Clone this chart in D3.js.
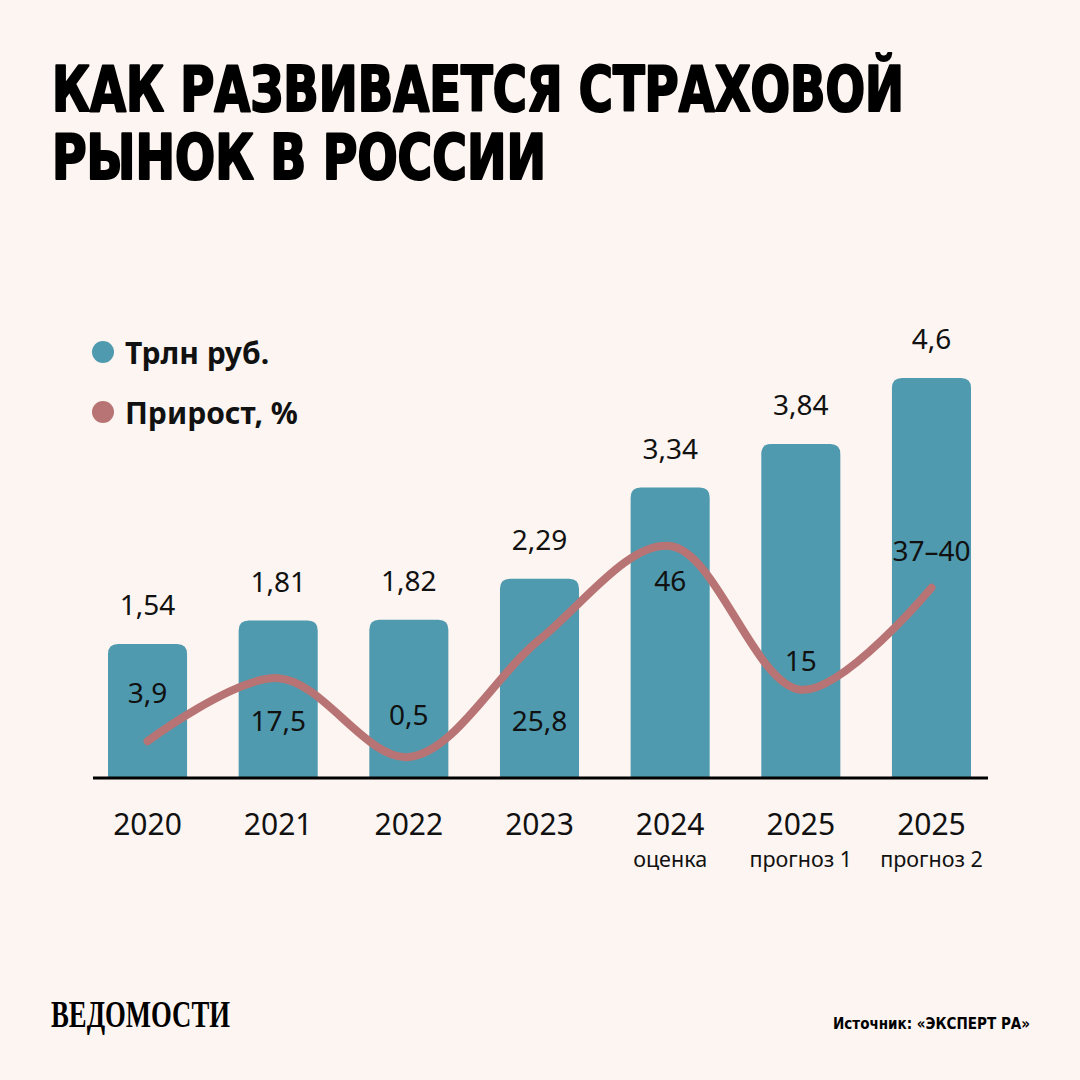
<!DOCTYPE html>
<html><head><meta charset="utf-8">
<script src="https://cdn.jsdelivr.net/npm/d3@7"></script>
<style>
html,body{margin:0;padding:0;background:#fcf5f1;}
svg{display:block;}
</style></head>
<body>
<script>
const years = ["2020","2021","2022","2023","2024","2025","2025"];
const subLabels = ["","","","","оценка","прогноз 1","прогноз 2"];
const keys = ["a","b","c","d","e","f","g"];
const volume = [1.54, 1.81, 1.82, 2.29, 3.34, 3.84, 4.6];
const volumeLabels = ["1,54","1,81","1,82","2,29","3,34","3,84","4,6"];
const growth = [3.9, 17.5, 0.5, 25.8, 46, 15, 37];
const growthLabels = ["3,9","17,5","0,5","25,8","46","15","37–40"];
const growthLabelOffset = [-49, 42, -43, 80, 34, -30, -38];

const W = 1080, H = 1080;
const bg = "#fcf5f1", barColor = "#4f9aae", lineColor = "#b87474";
const font = "'Noto Sans', 'Open Sans', sans-serif";

const svg = d3.select("body").append("svg").attr("width", W).attr("height", H);
svg.append("rect").attr("width", W).attr("height", H).attr("fill", bg);

// Title
const title = svg.append("g").attr("font-family", "'DejaVu Sans Condensed', 'DejaVu Sans', sans-serif")
  .attr("font-weight", 900).attr("font-size", 62).attr("fill", "#000")
  .attr("stroke", "#000").attr("stroke-width", 2.2).attr("stroke-linejoin", "round");
title.append("text").attr("x", 52).attr("y", 111).attr("textLength", 852)
  .attr("lengthAdjust", "spacingAndGlyphs").text("КАК РАЗВИВАЕТСЯ СТРАХОВОЙ");
title.append("text").attr("x", 52).attr("y", 179).attr("textLength", 494)
  .attr("lengthAdjust", "spacingAndGlyphs").text("РЫНОК В РОССИИ");

// Scales
const baseY = 778;
const x = d3.scaleBand().domain(keys).range([108, 971]).paddingInner(0.395).paddingOuter(0);
const y = d3.scaleLinear().domain([0, 4.6]).range([baseY, 378]);
const yg = d3.scaleLinear().domain([0.5, 46]).range([757, 546]);
const cx = i => x(keys[i]) + x.bandwidth() / 2;

// Bars with rounded top
const r = 10;
function barPath(d, i) {
  const x0 = x(keys[i]), w = x.bandwidth(), y0 = y(d), y1 = baseY;
  return `M${x0},${y1}V${y0 + r}Q${x0},${y0} ${x0 + r},${y0}H${x0 + w - r}Q${x0 + w},${y0} ${x0 + w},${y0 + r}V${y1}Z`;
}
svg.append("g").selectAll("path").data(volume).join("path")
  .attr("d", barPath).attr("fill", barColor);

// Volume labels
svg.append("g").attr("font-family", font).attr("font-size", 28).attr("fill", "#111")
  .attr("text-anchor", "middle")
  .selectAll("text").data(volume).join("text")
  .attr("x", (d, i) => cx(i))
  .attr("y", d => y(d) - 29)
  .text((d, i) => volumeLabels[i]);

// Growth line
const line = d3.line()
  .x((d, i) => cx(i))
  .y(d => yg(d))
  .curve(d3.curveCatmullRom.alpha(0.5));
svg.append("path").datum(growth).attr("d", line)
  .attr("fill", "none").attr("stroke", lineColor).attr("stroke-width", 8)
  .attr("stroke-linecap", "round");

// Growth labels
svg.append("g").attr("font-family", font).attr("font-size", 28).attr("fill", "#111")
  .attr("text-anchor", "middle").attr("dominant-baseline", "central")
  .selectAll("text").data(growth).join("text")
  .attr("x", (d, i) => cx(i))
  .attr("y", (d, i) => yg(d) + growthLabelOffset[i])
  .text((d, i) => growthLabels[i]);

// Axis
svg.append("line").attr("x1", 93).attr("x2", 988).attr("y1", baseY).attr("y2", baseY)
  .attr("stroke", "#000").attr("stroke-width", 3);

const xl = svg.append("g").attr("font-family", font).attr("fill", "#111").attr("text-anchor", "middle");
xl.selectAll("text.yr").data(years).join("text").attr("class", "yr")
  .attr("x", (d, i) => cx(i))
  .attr("y", 835).attr("font-size", 30).text(d => d);
xl.selectAll("text.sub").data(subLabels).join("text").attr("class", "sub")
  .attr("x", (d, i) => cx(i))
  .attr("y", 867).attr("font-size", 21.5).text(d => d);

// Legend
const leg = svg.append("g").attr("font-family", font).attr("font-weight", 700)
  .attr("font-size", 30).attr("fill", "#111");
[["Трлн руб.", barColor, 352], ["Прирост, %", lineColor, 412]].forEach(([t, c, cyy]) => {
  leg.append("circle").attr("cx", 103).attr("cy", cyy).attr("r", 11).attr("fill", c);
  leg.append("text").attr("x", 125).attr("y", cyy).attr("dominant-baseline", "central").text(t);
});

// Footer
svg.append("text").attr("x", 51).attr("y", 1027)
  .attr("font-family", "'Liberation Serif', serif").attr("font-weight", 700)
  .attr("font-size", 38).attr("textLength", 179).attr("lengthAdjust", "spacingAndGlyphs")
  .attr("fill", "#000").text("ВЕДОМОСТИ");
svg.append("text").attr("x", 833).attr("y", 1029)
  .attr("font-family", "'DejaVu Sans Condensed', sans-serif").attr("font-weight", 700)
  .attr("font-size", 16).attr("fill", "#000")
  .attr("textLength", 197).attr("lengthAdjust", "spacingAndGlyphs")
  .text("Источник: «ЭКСПЕРТ РА»");
</script>
</body></html>
